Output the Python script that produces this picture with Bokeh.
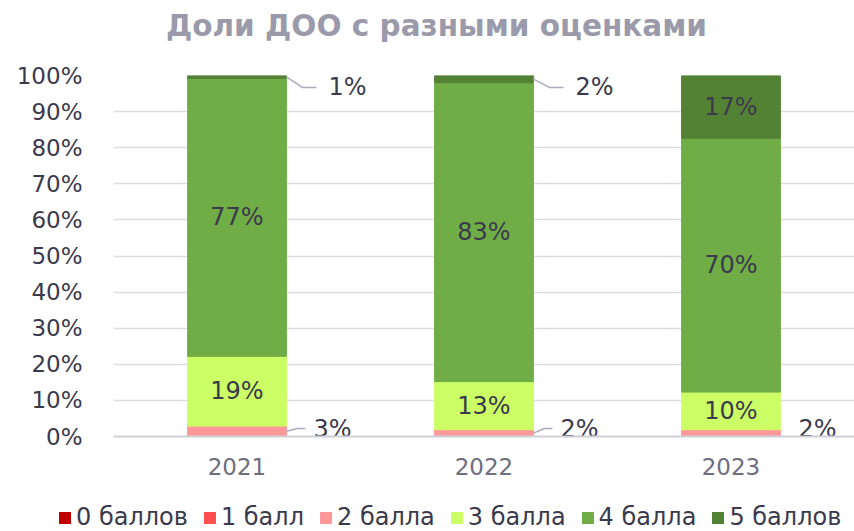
from bokeh.plotting import figure
from bokeh.models import ColumnDataSource, FactorRange, Range1d, PrintfTickFormatter, Legend
from bokeh.core.properties import value
from bokeh.embed import file_html
from bokeh.resources import INLINE

# ---- data ----
years = ["2021", "2022", "2023"]
series = ["0 баллов", "1 балл", "2 балла", "3 балла", "4 балла", "5 баллов"]
b0 = [0.0, 0.0, 0.0]
b1 = [0.0, 0.0, 0.0]
b2 = [2.9, 1.9, 1.9]
b3 = [19.3, 13.3, 10.4]
b4 = [77.0, 82.8, 70.3]
b5 = [0.8, 2.0, 17.4]
colors = ["#c00000", "#ff5050", "#ff9999", "#ccff66", "#70ad47", "#548235"]
y_ticks = [0, 10, 20, 30, 40, 50, 60, 70, 80, 90, 100]
title_text = "Доли ДОО с разными оценками"
# leader line shown for outside labels (per year) of the small segments
leader_bottom = [True, True, False]
leader_top = [True, True, True]

FONT = "DejaVu Sans"
TXT = "#3a3a4c"
W = 854


def bare(fig):
    fig.axis.visible = False
    fig.grid.visible = False
    fig.outline_line_color = None
    fig.background_fill_color = "white"
    fig.border_fill_color = "white"


# ---- header (title) ----
H1 = 60
head = figure(width=W, height=H1, x_range=Range1d(0, W), y_range=Range1d(0, H1),
              output_backend="svg", toolbar_location=None,
              min_border=0, min_border_left=0, min_border_right=0,
              min_border_top=0, min_border_bottom=0)
bare(head)
head.text([436], [H1 - 25], text=[title_text], text_align="center", text_baseline="middle",
          text_font=value(FONT), text_font_size="29.5px", text_font_style="bold",
          text_color="#9a9aab")

# ---- main chart ----
keys = ["b0", "b1", "b2", "b3", "b4", "b5"]
vals = [b0, b1, b2, b3, b4, b5]
src = ColumnDataSource(dict(year=years, **{k: v for k, v in zip(keys, vals)}))

H2 = 435
p = figure(x_range=FactorRange(*years, range_padding=0), y_range=Range1d(0, 100),
           width=W, height=H2, output_backend="svg", toolbar_location=None,
           min_border_left=113, min_border_right=0, min_border_top=15, min_border_bottom=59)
p.outline_line_color = None
p.background_fill_color = "white"
p.border_fill_color = "white"

BW = 0.4
renderers = p.vbar_stack(keys, x="year", width=BW, color=colors, source=src)

p.yaxis.ticker = y_ticks
p.yaxis.formatter = PrintfTickFormatter(format="%d%%")
p.yaxis.axis_line_color = None
p.yaxis.major_tick_line_color = None
p.yaxis.minor_tick_line_color = None
p.yaxis.major_label_text_font = FONT
p.yaxis.major_label_text_font_size = "23px"
p.yaxis.major_label_text_color = TXT
p.yaxis.major_label_standoff = 25

p.xaxis.axis_line_color = "#cfcfd8"
p.xaxis.axis_line_width = 2
p.xaxis.major_tick_line_color = None
p.xaxis.minor_tick_line_color = None
p.xaxis.major_label_text_font = FONT
p.xaxis.major_label_text_font_size = "23px"
p.xaxis.major_label_text_color = "#6e6e80"
p.xaxis.major_label_standoff = 15

p.xgrid.grid_line_color = None
p.ygrid.grid_line_color = "#dcdce4"
p.ygrid.grid_line_width = 1.5

# data labels
in_x, in_y, in_t = [], [], []
out_x, out_y, out_t = [], [], []
lead_xs, lead_ys = [], []
U = 1 / 247.0  # px -> x units
for i in range(len(years)):
    base = 0.0
    for si, v in enumerate(vals):
        val = v[i]
        mid = base + val / 2
        base += val
        if val <= 0:
            continue
        label = "%d%%" % round(val)
        cx = i + 0.5
        if val >= 5:
            in_x.append(cx); in_y.append(mid); in_t.append(label)
        else:
            right = cx + BW / 2
            top = mid > 50
            ly = min(mid, 96.7) if top else max(mid, 2.2)
            has_leader = leader_top[i] if top else leader_bottom[i]
            d1, d2, dt = (16, 30, 42) if top else (11, 19, 27)
            if has_leader:
                lead_xs.append([right, right + d1 * U, right + d2 * U])
                lead_ys.append([mid, ly, ly])
                out_x.append(right + dt * U)
            else:
                out_x.append(right + 18 * U)
            out_y.append(ly); out_t.append(label)

p.multi_line(lead_xs, lead_ys, line_color="#ababbb", line_width=1.5)
p.text(in_x, in_y, text=in_t, text_align="center", text_baseline="middle",
       text_font=value(FONT), text_font_size="24px", text_color=TXT)
p.text(out_x, out_y, text=out_t, text_align="left", text_baseline="middle",
       text_font=value(FONT), text_font_size="24px", text_color=TXT)

# ---- legend strip ----
H3 = 531 - H1 - H2
leg = figure(width=W, height=H3, x_range=Range1d(0, 1), y_range=Range1d(0, 1),
             output_backend="svg", toolbar_location=None,
             min_border=0, min_border_left=0, min_border_right=0,
             min_border_top=0, min_border_bottom=0)
bare(leg)
# legend swatches: zero-size proxies sharing the series colours
dummies = [leg.vbar(x=[0.5], top=[0], bottom=[0], width=0, color=c, line_width=0) for c in colors]
legend = Legend(items=[(s, [r]) for s, r in zip(series, dummies)],
                orientation="horizontal", location=(57, 0),
                label_text_font=FONT, label_text_font_size="24px", label_text_color=TXT,
                glyph_width=15, glyph_height=15, label_standoff=4, spacing=14,
                padding=0, margin=0, border_line_color=None, background_fill_alpha=0)
leg.add_layout(legend, "center")

open("out.html", "w").write(file_html([head, p, leg], INLINE))
